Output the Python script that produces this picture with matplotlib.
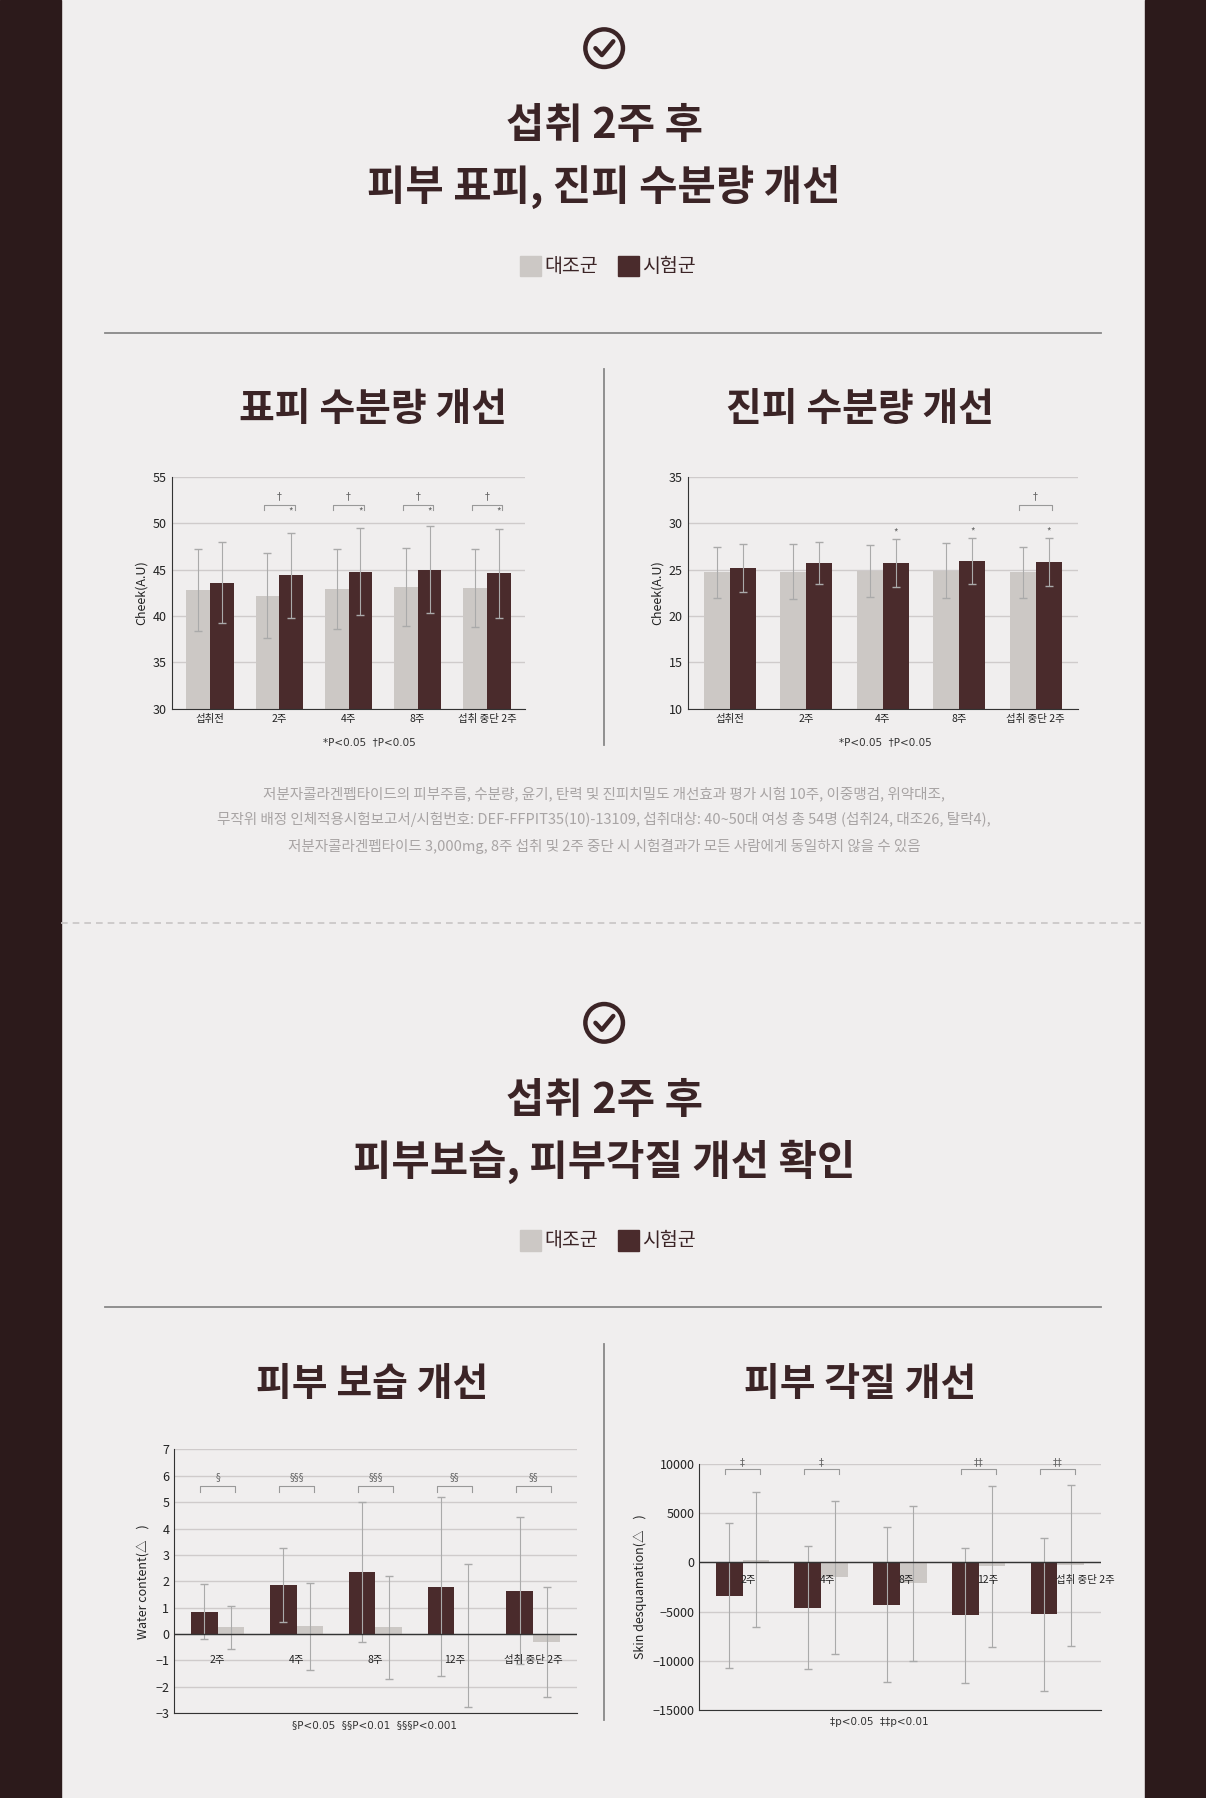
import numpy as np
import matplotlib
matplotlib.use("Agg")
import matplotlib.pyplot as plt
from matplotlib.patches import Rectangle, Circle

plt.rcParams['font.family'] = ['Noto Sans CJK KR', 'DejaVu Sans']

# 데이터
cats1 = ['섭취전', '2주', '4주', '8주', '섭취 중단 2주']
epi_ctrl = [42.8, 42.2, 42.9, 43.1, 43.0]
epi_ctrl_err = [4.4, 4.6, 4.3, 4.2, 4.2]
epi_test = [43.6, 44.4, 44.8, 45.0, 44.6]
epi_test_err = [4.4, 4.6, 4.7, 4.7, 4.8]
der_ctrl = [24.7, 24.8, 24.9, 24.9, 24.7]
der_ctrl_err = [2.8, 3.0, 2.8, 3.0, 2.8]
der_test = [25.2, 25.7, 25.7, 25.9, 25.8]
der_test_err = [2.6, 2.3, 2.6, 2.5, 2.6]

cats2 = ['2주', '4주', '8주', '12주', '섭취 중단 2주']
wat_test = [0.85, 1.85, 2.35, 1.8, 1.65]
wat_test_err = [1.05, 1.4, 2.65, 3.4, 2.8]
wat_ctrl = [0.25, 0.3, 0.25, -0.05, -0.3]
wat_ctrl_err = [0.8, 1.65, 1.95, 2.7, 2.1]
wat_sig = ['§', '§§§', '§§§', '§§', '§§']
des_test = [-3400, -4600, -4300, -5400, -5300]
des_test_err = [7400, 6300, 7900, 6900, 7800]
des_ctrl = [300, -1500, -2100, -400, -300]
des_ctrl_err = [6900, 7800, 7900, 8200, 8200]
des_sig = ['‡', '‡', '', '‡‡', '‡‡']

DARK = '#4a2b2c'
LIGHT = '#ccc8c5'
BG = '#f0eeee'
TXT = '#3b2426'
GREY = '#a8a4a4'
SYM = ['DejaVu Sans']

W, H = 1052, 1568
fig = plt.figure(figsize=(12.06, 17.98), dpi=100, facecolor=BG)

def fx(x): return x / W
def fy(y): return 1 - y / H

def axes_px(x0, y0, x1, y1):
    return fig.add_axes([fx(x0), fy(y1), fx(x1) - fx(x0), (y1 - y0) / H])

def text(x, y, s, size, **kw):
    kw.setdefault('color', TXT)
    fig.text(fx(x), fy(y), s, fontsize=size, ha=kw.pop('ha', 'center'), va=kw.pop('va', 'center'), **kw)

def hline(y, x0, x1, **kw):
    fig.add_artist(plt.Line2D([fx(x0), fx(x1)], [fy(y), fy(y)], **kw))

def vline(x, y0, y1, **kw):
    fig.add_artist(plt.Line2D([fx(x), fx(x)], [fy(y0), fy(y1)], **kw))

# 배경 테두리
fig.add_artist(Rectangle((0, 0), fx(53), 1, color='#2c1a1b', transform=fig.transFigure))
fig.add_artist(Rectangle((fx(999), 0), 1, 1, color='#2c1a1b', transform=fig.transFigure))

def check(y):
    a = axes_px(507, y - 20, 547, y + 20)
    a.set_xlim(-1, 1); a.set_ylim(-1, 1); a.axis('off')
    a.add_patch(Circle((0, 0), 0.82, fill=False, lw=3.2, color=TXT))
    a.plot([-0.38, -0.1, 0.4], [0.0, -0.3, 0.3], color=TXT, lw=3.2, solid_capstyle='round')

def legend(y):
    for x0, lbl, c in [(454, '대조군', LIGHT), (539, '시험군', DARK)]:
        fig.add_artist(Rectangle((fx(x0), fy(y + 9)), fx(18), 18 / H, color=c, transform=fig.transFigure))
        text(x0 + 21, y, lbl, 14, ha='left')

def section(top, t1, t2, s1, s2):
    check(top + 42)
    text(527, top + 110, t1, 30, weight='semibold')
    text(527, top + 163, t2, 30, weight='semibold')
    legend(top + 232)
    hline(top + 290, 92, 960, color='#888', lw=1.3)
    vline(527, top + 322, top + 650, color='#888', lw=1.3)
    text(325, top + 357, s1, 28, weight='semibold')
    text(750, top + 357, s2, 28, weight='semibold')

def style(ax, ylabel):
    ax.set_facecolor('none')
    for s in ['top', 'right']:
        ax.spines[s].set_visible(False)
    ax.spines['left'].set_color('#333')
    ax.spines['bottom'].set_color('#333')
    ax.yaxis.grid(True, color='#cfcbcb', lw=1)
    ax.set_axisbelow(True)
    ax.tick_params(axis='y', length=0, labelsize=9, colors='#222')
    ax.tick_params(axis='x', length=0, labelsize=7.5, colors='#222')
    ax.set_ylabel(ylabel, fontsize=9, color='#222')

def bracket(ax, xc, y, h, sym, star, ylo_h):
    ax.plot([xc - 0.22, xc - 0.22, xc + 0.22, xc + 0.22], [y - h, y, y, y - h], color='#999', lw=0.8)
    if sym:
        ax.text(xc, y + ylo_h, sym, ha='center', va='bottom', fontsize=7, color='#666', family=SYM)
    if star:
        ax.text(xc + 0.17, y - h * 0.3, '*', ha='center', va='top', fontsize=7, color='#666')

bw = 0.34
ek = dict(ecolor='#aaa', elinewidth=0.8, capsize=3)

section(0, '섭취 2주 후', '피부 표피, 진피 수분량 개선', '표피 수분량 개선', '진피 수분량 개선')

x = np.arange(5)
ax1 = axes_px(150, 416, 458, 618)
ax1.bar(x - bw / 2, epi_ctrl, bw, color=LIGHT, yerr=epi_ctrl_err, error_kw=ek)
ax1.bar(x + bw / 2, epi_test, bw, color=DARK, yerr=epi_test_err, error_kw=ek)
ax1.set_ylim(30, 55); ax1.set_xlim(-0.55, 4.55)
ax1.set_yticks(range(30, 56, 5)); ax1.set_xticks(x, cats1)
style(ax1, 'Cheek(A.U)')
for i in range(1, 5):
    bracket(ax1, x[i], 52.0, 0.6, '†', True, 0.4)
text(322, 647, '*P<0.05  †P<0.05', 7.5, color='#333', family=SYM)

ax2 = axes_px(600, 416, 940, 618)
ax2.bar(x - bw / 2, der_ctrl, bw, color=LIGHT, yerr=der_ctrl_err, error_kw=ek)
ax2.bar(x + bw / 2, der_test, bw, color=DARK, yerr=der_test_err, error_kw=ek)
ax2.set_ylim(10, 35); ax2.set_xlim(-0.55, 4.55)
ax2.set_yticks(range(10, 36, 5)); ax2.set_xticks(x, cats1)
style(ax2, 'Cheek(A.U)')
for i in range(2, 5):
    ax2.text(x[i] + bw / 2, der_test[i] + der_test_err[i] + 0.4, '*', ha='center', fontsize=7, color='#666')
bracket(ax2, x[4], 32.0, 0.6, '†', False, 0.4)
text(772, 647, '*P<0.05  †P<0.05', 7.5, color='#333', family=SYM)

for i, s in enumerate(['저분자콜라겐펩타이드의 피부주름, 수분량, 윤기, 탄력 및 진피치밀도 개선효과 평가 시험 10주, 이중맹검, 위약대조,',
                       '무작위 배정 인체적용시험보고서/시험번호: DEF-FFPIT35(10)-13109, 섭취대상: 40~50대 여성 총 54명 (섭취24, 대조26, 탈락4),',
                       '저분자콜라겐펩타이드 3,000mg, 8주 섭취 및 2주 중단 시 시험결과가 모든 사람에게 동일하지 않을 수 있음']):
    text(527, 692 + 23 * i, s, 10.5, color=GREY)

hline(805, 53, 999, color='#c8c4c4', lw=1.2, ls=(0, (4, 3)))

section(850, '섭취 2주 후', '피부보습, 피부각질 개선 확인', '피부 보습 개선', '피부 각질 개선')

ax3 = axes_px(152, 1264, 503, 1494)
ax3.bar(x - bw / 2, wat_test, bw, color=DARK, yerr=wat_test_err, error_kw=ek)
ax3.bar(x + bw / 2, wat_ctrl, bw, color=LIGHT, yerr=wat_ctrl_err, error_kw=ek)
ax3.axhline(0, color='#333', lw=1)
ax3.set_ylim(-3, 7); ax3.set_xlim(-0.55, 4.55)
ax3.set_yticks(range(-3, 8)); ax3.set_xticks([])
style(ax3, 'Water content(△    )')
for i in range(5):
    ax3.text(x[i], -1.0, cats2[i], ha='center', va='center', fontsize=7.5, color='#222')
    bracket(ax3, x[i], 5.6, 0.2, wat_sig[i], False, 0.15)
text(327, 1504, '§P<0.05  §§P<0.01  §§§P<0.001', 7.5, color='#333', family=SYM)

ax4 = axes_px(610, 1277, 960, 1491)
ax4.bar(x - bw / 2, des_test, bw, color=DARK, yerr=des_test_err, error_kw=ek)
ax4.bar(x + bw / 2, des_ctrl, bw, color=LIGHT, yerr=des_ctrl_err, error_kw=ek)
ax4.axhline(0, color='#333', lw=1)
ax4.set_ylim(-15000, 10000); ax4.set_xlim(-0.55, 4.55)
ax4.set_yticks(range(-15000, 10001, 5000)); ax4.set_xticks([])
style(ax4, 'Skin desquamation(△    )')
for i in range(5):
    ax4.text(x[i] - 0.02, -1800, cats2[i], ha='left', va='center', fontsize=7.5, color='#222')
    if des_sig[i]:
        bracket(ax4, x[i], 9500, 500, des_sig[i], False, 200)
text(767, 1502, '‡p<0.05  ‡‡p<0.01', 7.5, color='#333', family=SYM)

fig.savefig('out.png', dpi=100, facecolor=BG)
